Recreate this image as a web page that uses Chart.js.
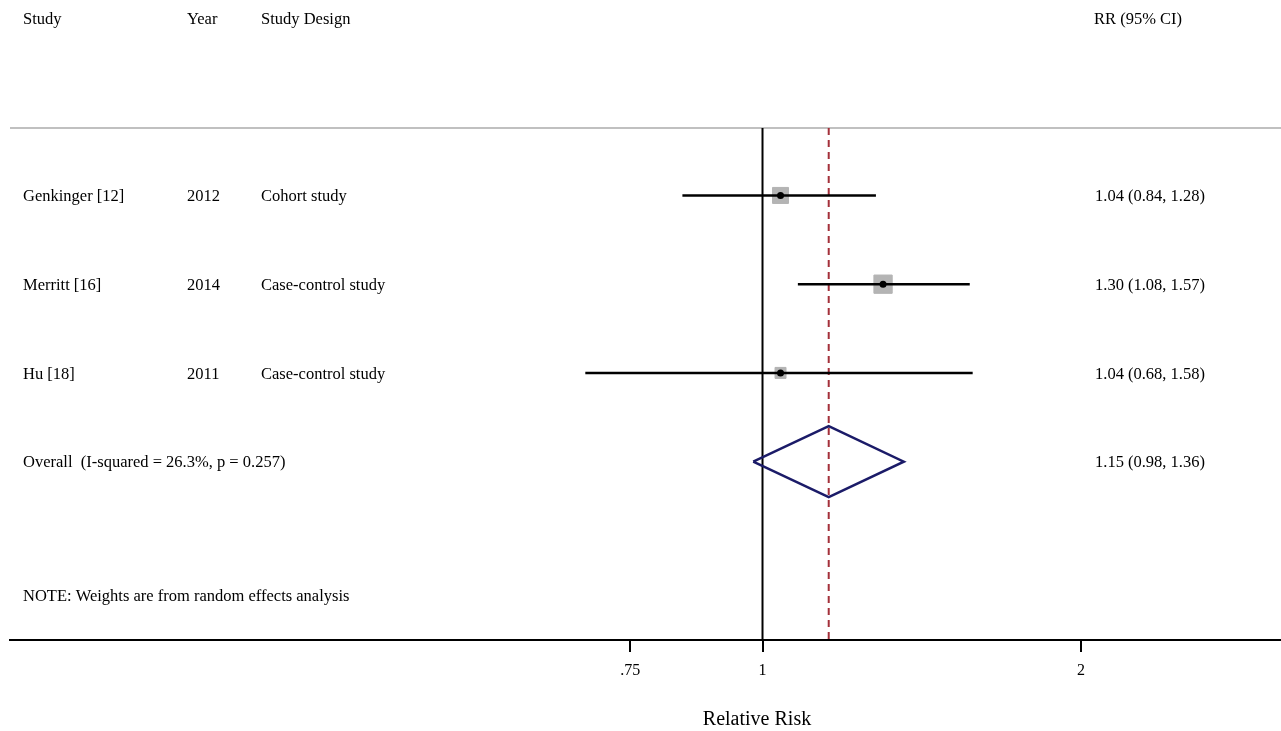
<html>
<head>
<script src="https://cdn.jsdelivr.net/npm/chart.js@4.4.1/dist/chart.umd.min.js"></script>
<style>
  body { margin: 0; background: #fff; }
</style>
</head>
<body>
<canvas id="forest" width="1281" height="731"></canvas>

<script>
// study rows
var studies = ['Genkinger [12]', 'Merritt [16]', 'Hu [18]'];
var years = ['2012', '2014', '2011'];
var designs = ['Cohort study', 'Case-control study', 'Case-control study'];
var rr = [1.04, 1.30, 1.04];
var lower = [0.84, 1.08, 0.68];
var upper = [1.28, 1.57, 1.58];
var weights = [36, 47, 17];          // % weight, sets box area
var ciLabels = ['1.04 (0.84, 1.28)', '1.30 (1.08, 1.57)', '1.04 (0.68, 1.58)'];

// pooled estimate
var overallLabel = 'Overall  (I-squared = 26.3%, p = 0.257)';
var overallRR = 1.155;
var overallLower = 0.98;
var overallUpper = 1.36;
var overallCiLabel = '1.15 (0.98, 1.36)';

var headers = ['Study', 'Year', 'Study Design', 'RR (95% CI)'];
var note = 'NOTE: Weights are from random effects analysis';

// x axis
var tickValues = [0.75, 1, 2];
var tickLabels = ['.75', '1', '2'];
var axisTitle = 'Relative Risk';

var xMin = 0.1944, xMax = 3.091;
var yMin = 0.24, yMax = 6.01;
var serif = "'Liberation Serif', 'Times New Roman', serif";

var datasets = [];

// dots on top
datasets.push({
  data: rr.map(function(v, i) { return {x: v, y: i + 1}; }),
  pointStyle: 'circle', pointRadius: 3.5, pointBackgroundColor: '#000', pointBorderWidth: 0
});

// CI lines
for (var i = 0; i < studies.length; i++) {
  datasets.push({
    data: [{x: lower[i], y: i + 1}, {x: upper[i], y: i + 1}],
    showLine: true, borderColor: '#000', borderWidth: 2.5, pointRadius: 0
  });
}

// weight boxes
datasets.push({
  data: rr.map(function(v, i) { return {x: v, y: i + 1}; }),
  pointStyle: 'rect',
  pointRadius: weights.map(function(w) { return Math.sqrt(w) * 2.667 / Math.SQRT2; }),
  pointBackgroundColor: '#b4b4b4', pointBorderColor: '#b4b4b4', pointBorderWidth: 1
});

// overall diamond
var oRow = studies.length + 1;
datasets.push({
  data: [
    {x: overallLower, y: oRow}, {x: overallRR, y: oRow - 0.4},
    {x: overallUpper, y: oRow}, {x: overallRR, y: oRow + 0.4},
    {x: overallLower, y: oRow}
  ],
  showLine: true, borderColor: '#1b1b68', borderWidth: 2.5, pointRadius: 0, borderJoinStyle: 'miter'
});

// dashed line at pooled estimate
datasets.push({
  data: [{x: overallRR, y: yMin}, {x: overallRR, y: yMax}],
  showLine: true, borderColor: '#a3303a', borderWidth: 2, borderDash: [7, 5], pointRadius: 0
});

// line of no effect
datasets.push({
  data: [{x: 1, y: yMin}, {x: 1, y: yMax}],
  showLine: true, borderColor: '#000', borderWidth: 2, pointRadius: 0
});

var textPlugin = {
  id: 'forestText',
  beforeDatasetsDraw: function(chart) {
    var ctx = chart.ctx, a = chart.chartArea;
    ctx.save();
    ctx.strokeStyle = '#c0c0c0';
    ctx.lineWidth = 2;
    ctx.beginPath();
    ctx.moveTo(a.left, a.top);
    ctx.lineTo(a.right, a.top);
    ctx.stroke();
    ctx.restore();
  },
  afterDraw: function(chart) {
    var ctx = chart.ctx, ys = chart.scales.y;
    var dy = 1.5;
    ctx.save();
    ctx.fillStyle = '#000';
    ctx.textBaseline = 'middle';
    ctx.textAlign = 'left';
    ctx.font = '16.5px ' + serif;

    var hy = ys.getPixelForValue(-1.0) + dy;
    ctx.fillText(headers[0], 23, hy);
    ctx.fillText(headers[1], 187, hy);
    ctx.fillText(headers[2], 261, hy);
    ctx.fillText(headers[3], 1094, hy);

    for (var i = 0; i < studies.length; i++) {
      var y = ys.getPixelForValue(i + 1) + dy;
      ctx.fillText(studies[i], 23, y);
      ctx.fillText(years[i], 187, y);
      ctx.fillText(designs[i], 261, y);
      ctx.fillText(ciLabels[i], 1095, y);
    }
    var oy = ys.getPixelForValue(oRow) + dy;
    ctx.fillText(overallLabel, 23, oy);
    ctx.fillText(overallCiLabel, 1095, oy);

    ctx.fillText(note, 23, ys.getPixelForValue(5.5) + dy);

    ctx.textAlign = 'center';
    ctx.font = '20px ' + serif;
    ctx.fillText(axisTitle, 757, 720);
    ctx.restore();
  }
};

new Chart(document.getElementById('forest'), {
  type: 'scatter',
  data: { datasets: datasets },
  plugins: [textPlugin],
  options: {
    responsive: false,
    animation: false,
    layout: { autoPadding: false, padding: { left: 10, right: 0, top: 128, bottom: 0 } },
    plugins: { legend: { display: false }, tooltip: { enabled: false } },
    scales: {
      x: {
        type: 'logarithmic',
        position: 'bottom',
        min: xMin,
        max: xMax,
        bounds: 'data',
        afterBuildTicks: function(scale) {
          scale.ticks = tickValues.map(function(v) { return {value: v}; });
        },
        afterFit: function(scale) { scale.height = 91; },
        ticks: {
          color: '#000',
          padding: 9,
          font: { family: serif, size: 16 },
          maxRotation: 0,
          autoSkip: false,
          callback: function(v) {
            var k = tickValues.indexOf(v);
            return k >= 0 ? tickLabels[k] : '';
          }
        },
        grid: { display: true, drawOnChartArea: false, drawTicks: true, tickLength: 12, color: '#000', lineWidth: 2 },
        border: { display: true, color: '#000', width: 2 }
      },
      y: {
        type: 'linear',
        display: false,
        reverse: true,
        min: yMin,
        max: yMax
      }
    }
  }
});
</script>
</body>
</html>
